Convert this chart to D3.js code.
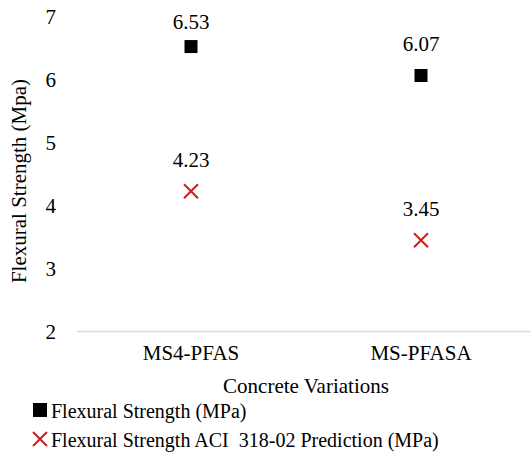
<!DOCTYPE html>
<html>
<head>
<meta charset="utf-8">
<script src="https://cdn.jsdelivr.net/npm/d3@7"></script>
</head>
<body style="margin:0">
<svg id="chart" width="530" height="452"></svg>
<script>
// Data
const categories = ["MS4-PFAS", "MS-PFASA"];
const measured = [6.53, 6.07];     // Flexural Strength (MPa)
const predicted = [4.23, 3.45];    // ACI 318-02 prediction (MPa)
const yTicks = [2, 3, 4, 5, 6, 7];

const width = 530, height = 452;
const serif = "'Liberation Serif'";
const red = "#d01c1c";

const svg = d3.select("#chart");

// Scales
const x = d3.scaleBand().domain(categories).range([76, 536]);
const y = d3.scaleLinear().domain([2, 7]).range([331.5, 17]);
const cx = (d, i) => x(categories[i]) + x.bandwidth() / 2;

// baseline axis line
svg.append("line")
    .attr("x1", 77).attr("x2", width)
    .attr("y1", y(2)).attr("y2", y(2))
    .attr("stroke", "#d9d9d9").attr("stroke-width", 1.5);

// y tick labels
svg.append("g").selectAll("text").data(yTicks).enter().append("text")
    .style("font-family", serif).attr("font-size", 21)
    .attr("x", 56).attr("y", d => y(d)).attr("dy", "0.35em")
    .attr("text-anchor", "end").text(d => d);

// category labels
svg.append("g").selectAll("text").data(categories).enter().append("text")
    .style("font-family", serif).attr("font-size", 21)
    .attr("x", d => x(d) + x.bandwidth() / 2).attr("y", 360)
    .attr("text-anchor", "middle").text(d => d);

// axis titles
svg.append("text")
    .style("font-family", serif).attr("font-size", 21)
    .attr("x", 306).attr("y", 393)
    .attr("text-anchor", "middle")
    .text("Concrete Variations");

svg.append("g")
    .attr("transform", "translate(26,181) rotate(-90)")
  .append("text")
    .style("font-family", serif).attr("font-size", 21)
    .attr("text-anchor", "middle")
    .text("Flexural Strength (Mpa)");

// measured: black squares
svg.append("g").selectAll("rect").data(measured).enter().append("rect")
    .attr("x", (d, i) => cx(d, i) - 6.5)
    .attr("y", d => y(d) - 6.5)
    .attr("width", 13).attr("height", 13)
    .attr("fill", "#000");

// predicted: red crosses
svg.append("g").selectAll("path").data(predicted).enter().append("path")
    .attr("d", (d, i) => {
      const px = cx(d, i), py = y(d), r = 7;
      return `M${px - r},${py - r}L${px + r},${py + r}M${px - r},${py + r}L${px + r},${py - r}`;
    })
    .attr("stroke", red).attr("stroke-width", 2).attr("fill", "none");

// data labels
function labels(values) {
  svg.append("g").selectAll("text").data(values).enter().append("text")
    .style("font-family", serif).attr("font-size", 21)
    .attr("x", (d, i) => cx(d, i))
    .attr("y", d => Math.max(y(d) - 24.5, 28.5))
    .attr("text-anchor", "middle")
    .text(d => d.toFixed(2));
}
labels(measured);
labels(predicted);

// legend
const legend = svg.append("g");
legend.append("rect")
    .attr("x", 33).attr("y", 403)
    .attr("width", 14).attr("height", 14)
    .attr("fill", "#000");
legend.append("text")
    .style("font-family", serif).attr("font-size", 20)
    .attr("x", 51).attr("y", 418)
    .text("Flexural Strength (MPa)");

legend.append("path")
    .attr("d", "M33,432L47,446M33,446L47,432")
    .attr("stroke", red).attr("stroke-width", 2).attr("fill", "none");
legend.append("text")
    .style("font-family", serif).attr("font-size", 20)
    .attr("x", 51).attr("y", 447)
    .text("Flexural Strength ACI \u00a0318-02 Prediction (MPa)");
</script>
</body>
</html>
